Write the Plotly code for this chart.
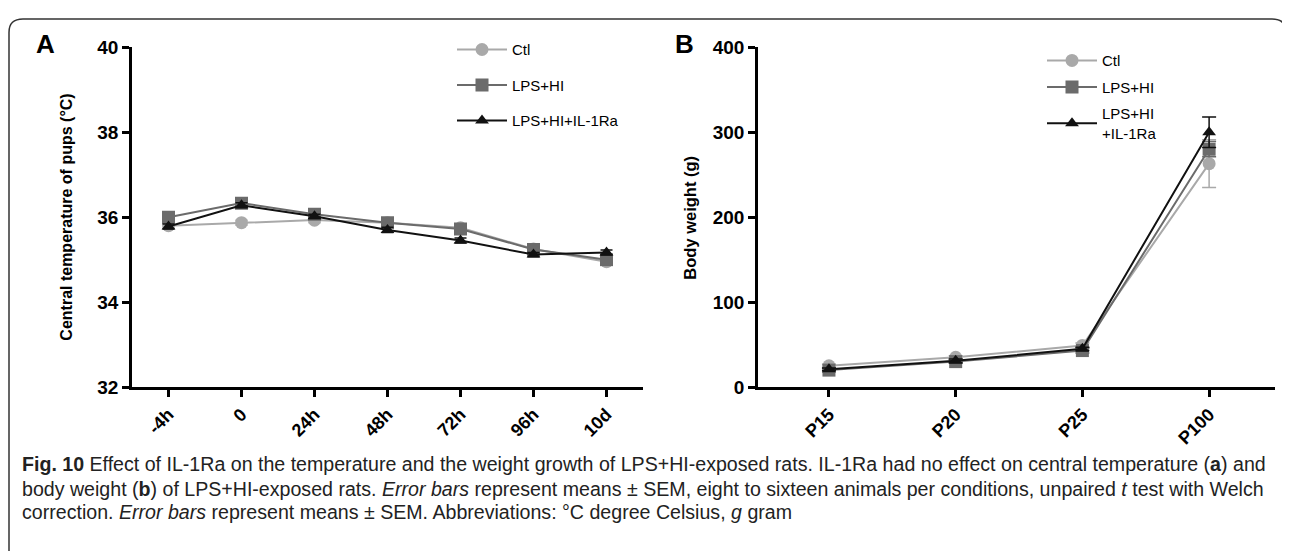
import plotly.graph_objects as go

W, H = 1290, 551
OFFX = 8                  # observed horizontal offset of the snapshot
OFFY, SY = 17.7, 0.965    # observed vertical mapping of the snapshot

# ---------------- data ----------------
cats_a = ["-4h", "0", "24h", "48h", "72h", "96h", "10d"]
ctl_a = [35.80, 35.87, 35.93, 35.87, 35.75, 35.25, 34.95]
lps_a = [36.00, 36.33, 36.07, 35.87, 35.72, 35.24, 35.00]
ra_a = [35.78, 36.28, 36.02, 35.70, 35.45, 35.12, 35.17]
ctl_a_err = [0.06, 0.06, 0.06, 0.07, 0.08, 0.06, 0.07]
lps_a_err = [0.07, 0.06, 0.06, 0.07, 0.08, 0.07, 0.07]
ra_a_err = [0.06, 0.06, 0.05, 0.06, 0.06, 0.05, 0.06]

cats_b = ["P15", "P20", "P25", "P100"]
ctl_b = [25, 35, 49, 263]
lps_b = [20, 30, 43, 280]
ra_b = [21, 31, 45, 300]
ctl_b_err = [2, 2, 3, 28]
lps_b_err = [2, 2, 3, 9]
ra_b_err = [1.5, 2, 2, 18]

names = ["Ctl", "LPS+HI", "LPS+HI+IL-1Ra"]
names_b = ["Ctl", "LPS+HI", "LPS+HI<br>+IL-1Ra"]

# ---------------- style ----------------
colors = ["#a9a9a9", "#6b6b6b", "#111111"]
symbols = ["circle", "square", "triangle-up"]
msizes = [13, 13, 12]

fig = go.Figure()

series_a = [(ctl_a, ctl_a_err), (lps_a, lps_a_err), (ra_a, ra_a_err)]
series_b = [(ctl_b, ctl_b_err), (lps_b, lps_b_err), (ra_b, ra_b_err)]

for i, (vals, err) in enumerate(series_a):
    fig.add_trace(go.Scatter(
        x=cats_a, y=vals, name=names[i], mode="lines+markers",
        line=dict(color=colors[i], width=2),
        marker=dict(symbol=symbols[i], size=msizes[i], color=colors[i]),
        error_y=dict(type="data", array=err, color=colors[i], thickness=1.5, width=6),
        xaxis="x", yaxis="y", legend="legend", legendgroup="a%d" % i,
    ))

for i, (vals, err) in enumerate(series_b):
    fig.add_trace(go.Scatter(
        x=cats_b, y=vals, name=names_b[i], mode="lines+markers",
        line=dict(color=colors[i], width=2),
        marker=dict(symbol=symbols[i], size=msizes[i], color=colors[i]),
        error_y=dict(type="data", array=err, color=colors[i], thickness=1.5, width=7),
        xaxis="x2", yaxis="y2", legend="legend2", legendgroup="b%d" % i,
    ))

def px(x):
    return (x - OFFX) / W

def py(y):
    return 1 - ((y - OFFY) / SY) / H

axis_common = dict(
    showline=True, linecolor="black", linewidth=2.5,
    ticks="outside", ticklen=7, tickwidth=2.5, tickcolor="black",
    showgrid=False, zeroline=False,
)
tickfont_y = dict(family="Liberation Sans, Arial, sans-serif", size=19, color="black", weight="bold")
tickfont_x = dict(family="Liberation Sans, Arial, sans-serif", size=18, color="black", weight="bold")
legfont = dict(family="Liberation Sans Narrow, Liberation Sans, Arial, sans-serif", size=15, color="black")

fig.update_layout(
    width=W, height=H,
    margin=dict(l=0, r=0, t=0, b=0),
    paper_bgcolor="white", plot_bgcolor="white",
    showlegend=True,
    xaxis=dict(domain=[px(132), px(643)], anchor="y", type="category",
               range=[-0.5, 6.5], tickangle=-45, tickfont=tickfont_x, **axis_common),
    yaxis=dict(domain=[py(388), py(47)], anchor="x", range=[32, 40],
               tickvals=[32, 34, 36, 38, 40], tickfont=tickfont_y, **axis_common),
    xaxis2=dict(domain=[px(758), px(1275)], anchor="y2", type="category",
                range=[-0.56, 3.52], tickangle=-45, tickfont=tickfont_x, **axis_common),
    yaxis2=dict(domain=[py(388), py(47)], anchor="x2", range=[0, 400],
                tickvals=[0, 100, 200, 300, 400], tickfont=tickfont_y, **axis_common),
    legend=dict(x=px(452), y=py(33), xanchor="left", yanchor="top",
                bgcolor="rgba(0,0,0,0)", tracegroupgap=13, itemwidth=50,
                font=legfont),
    legend2=dict(x=px(1042), y=py(44), xanchor="left", yanchor="top",
                 bgcolor="rgba(0,0,0,0)", tracegroupgap=4, itemwidth=50,
                 font=legfont),
)

annotations = [
    dict(text="<b>A</b>", x=px(45), y=py(44), font=dict(size=26, family="Liberation Sans, Arial", color="black")),
    dict(text="<b>B</b>", x=px(684), y=py(44), font=dict(size=26, family="Liberation Sans, Arial", color="black")),
    dict(text="<b>Central temperature of pups (°C)</b>", x=px(67), y=py(218), textangle=-90,
         font=dict(size=16, family="Liberation Sans, Arial", color="black")),
    dict(text="<b>Body weight (g)</b>", x=px(690), y=py(218), textangle=-90,
         font=dict(size=16.5, family="Liberation Sans, Arial", color="black")),
]
for a in annotations:
    a.update(xref="paper", yref="paper", showarrow=False, xanchor="center", yanchor="middle")
    fig.add_annotation(**a)

caption = [
    "<b>Fig. 10</b> Effect of IL-1Ra on the temperature and the weight growth of LPS+HI-exposed rats. IL-1Ra had no effect on central temperature (<b>a</b>) and",
    "body weight (<b>b</b>) of LPS+HI-exposed rats. <i>Error bars</i> represent means ± SEM, eight to sixteen animals per conditions, unpaired <i>t</i> test with Welch",
    "correction. <i>Error bars</i> represent means ± SEM. Abbreviations: °C degree Celsius, <i>g</i> gram",
]
cap_y = [465, 490, 513]
for t, yy in zip(caption, cap_y):
    fig.add_annotation(text=t, x=px(20), y=py(yy), xref="paper", yref="paper",
                       showarrow=False, xanchor="left", yanchor="middle",
                       font=dict(size=19.6, family="Liberation Sans Narrow, Liberation Sans, Arial", color="#222"))

# rounded frame around the figure (open at the bottom), as high as the page allows
x0, x1 = px(9), px(1286)
yt = 1 - 1.0 / H
rx, ry = 14 / W, 14 / H
path = (f"M {x0},{-0.1} L {x0},{yt - ry} Q {x0},{yt} {x0 + rx},{yt} "
        f"L {x1 - rx},{yt} Q {x1},{yt} {x1},{yt - ry} L {x1},{-0.1}")
fig.add_shape(type="path", path=path, xref="paper", yref="paper",
              line=dict(color="#333333", width=1.5))

fig.write_html("out.html")
